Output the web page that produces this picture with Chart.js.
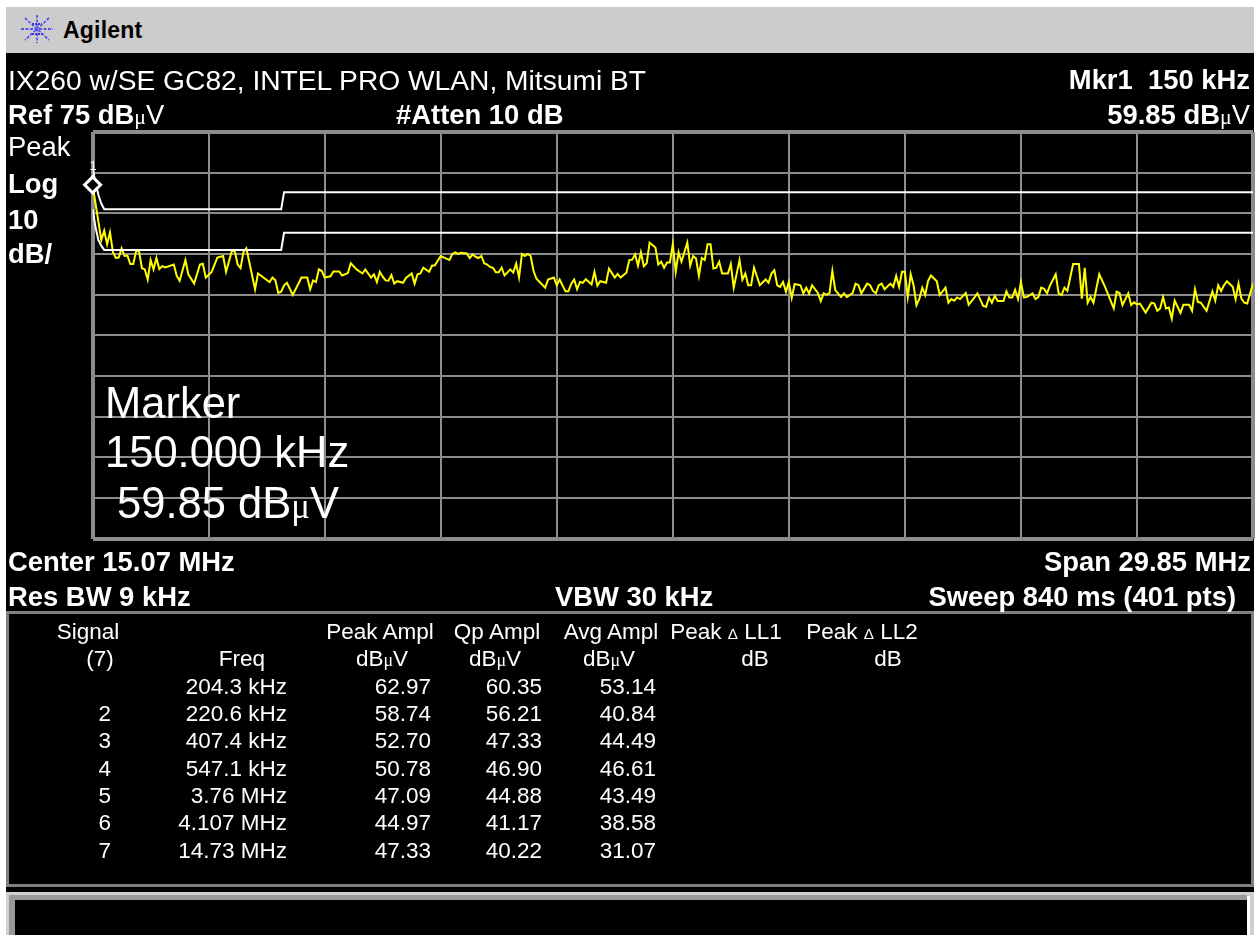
<!DOCTYPE html>
<html>
<head>
<meta charset="utf-8">
<title>IX260 w/SE GC82</title>
<script src="https://cdn.jsdelivr.net/npm/chart.js@4/dist/chart.umd.min.js"></script>
<style>
    html, body { margin: 0; padding: 0; background: #fff; overflow: hidden; }
    #page { position: relative; width: 1259px; height: 935px; font-family: "Liberation Sans", Arial, sans-serif; color: #fff; }
    .block { position: absolute; }
    .t { position: absolute; white-space: pre; line-height: 1; }
    .b { font-weight: bold; }
    .mu { font-family: "Liberation Serif", serif; font-weight: normal; font-size: 0.8em; }
    .reg { font-weight: normal; }
    .delta { font-size: 0.68em; }
    #chartWrap { position: absolute; left: 0; top: 0; width: 1259px; height: 935px; }
</style>
</head>
<body>
<div id="page">
    <div class="block" style="left:6px;top:7px;width:1248px;height:46px;background:#cccccc"></div>
    <div class="block" style="left:6px;top:53px;width:1248px;height:882px;background:#000"></div>
    <!-- measurement table box -->
    <div class="block" style="left:6px;top:611px;width:1248px;height:276px;box-sizing:border-box;border:3px solid #808080"></div>
    <!-- empty message box at the bottom -->
    <div class="block" style="left:6px;top:892px;width:1248px;height:43px;background:#cfcfcf"></div>
    <div class="block" style="left:9px;top:895px;width:1238px;height:5px;background:#999"></div>
    <div class="block" style="left:9px;top:895px;width:6px;height:40px;background:#999"></div>
    <div class="block" style="left:1247px;top:896px;width:3px;height:39px;background:#fff"></div>
    <div class="block" style="left:15px;top:900px;width:1232px;height:35px;background:#000"></div>

    <svg class="block" style="left:20px;top:14px" width="34" height="30" viewBox="0 0 34 30">
        <g stroke="#5555f0" stroke-width="1.8" stroke-dasharray="3 1.5" fill="none">
            <line x1="1" y1="15" x2="33" y2="15"/>
            <line x1="17" y1="1" x2="17" y2="29"/>
            <line x1="5" y1="4" x2="29" y2="26"/>
            <line x1="29" y1="4" x2="5" y2="26"/>
        </g>
        <g stroke="#3a3ad0" stroke-width="2" stroke-dasharray="2 1" fill="none">
            <line x1="12" y1="10" x2="22" y2="10"/>
            <line x1="12" y1="20" x2="22" y2="20"/>
        </g>
    </svg>
    <div class="t b" style="left:63px;top:19px;font-size:23px;color:#000;letter-spacing:0.2px">Agilent</div>

    <div id="chartWrap"><canvas id="analyzerChart" width="1259" height="935"></canvas></div>
    <div id="labels"></div>
</div>

<script>
    // sweep point number (0..400) and level in dBuV
    const traceBins = [
        0, 3, 4, 5, 6, 7, 8, 9, 10, 11, 12, 13, 14, 15, 16, 17, 18, 19, 20, 21, 22, 23, 24, 25, 28, 29, 30, 32, 33, 35,
        37, 38, 39, 41, 43, 45, 46, 48, 49, 50, 51, 52, 53, 56, 57, 61, 62, 63, 64, 65, 66, 67, 69, 72, 74, 75, 76, 77, 78, 79,
        80, 82, 83, 85, 86, 88, 89, 91, 93, 94, 96, 97, 98, 99, 100, 101, 102, 103, 104, 105, 107, 108, 110, 111, 112, 113, 114, 116, 117, 118,
        120, 123, 124, 125, 126, 127, 129, 130, 131, 132, 133, 134, 135, 136, 137, 138, 139, 140, 141, 142, 144, 145, 146, 147, 148, 149, 150, 151, 152, 153,
        156, 157, 159, 160, 161, 163, 164, 165, 166, 167, 168, 169, 170, 172, 173, 174, 175, 177, 178, 180, 181, 182, 184, 185, 186, 187, 188, 189, 190, 191,
        192, 194, 195, 196, 197, 198, 199, 200, 201, 202, 203, 205, 206, 207, 208, 209, 210, 211, 212, 213, 214, 215, 216, 217, 219, 220, 221, 223, 224, 225,
        226, 227, 228, 230, 232, 233, 234, 235, 236, 237, 238, 239, 240, 241, 242, 244, 245, 246, 247, 248, 250, 251, 252, 253, 254, 255, 256, 258, 259, 260,
        262, 263, 264, 265, 267, 268, 269, 270, 271, 272, 273, 275, 276, 277, 278, 279, 280, 281, 282, 283, 284, 285, 286, 287, 288, 289, 291, 292, 294, 295,
        296, 297, 298, 299, 301, 302, 304, 305, 307, 308, 309, 310, 311, 312, 314, 315, 316, 317, 318, 319, 320, 321, 322, 324, 325, 326, 327, 328, 329, 330,
        332, 333, 334, 335, 336, 338, 340, 341, 342, 343, 344, 345, 347, 349, 352, 353, 354, 355, 357, 358, 359, 360, 361, 363, 365, 366, 367, 368, 369, 370,
        371, 372, 373, 375, 376, 378, 379, 380, 381, 382, 384, 386, 387, 388, 389, 390, 391, 393, 394, 395, 396, 397, 398, 400
    ];
    const traceLevels = [
        62.0, 48.4, 50.7, 47.4, 50.3, 45.5, 44.0, 44.1, 46.4, 44.5, 44.6, 42.5, 42.5, 45.7, 45.7, 41.5, 41.2, 38.7, 43.5, 41.2, 44.0, 41.3, 42.0, 41.7, 42.4, 39.6, 38.4, 43.5, 40.0, 37.7,
        42.4, 42.6, 39.2, 40.5, 44.1, 44.5, 40.6, 45.7, 45.7, 42.4, 41.5, 45.5, 46.4, 36.3, 40.2, 38.1, 39.2, 38.5, 35.4, 35.7, 37.3, 37.9, 34.9, 39.2, 39.2, 36.3, 38.5, 38.1, 41.2, 40.8,
        39.2, 39.5, 40.7, 40.7, 39.7, 40.3, 42.7, 41.2, 40.2, 41.2, 39.2, 40.0, 38.1, 40.6, 39.4, 38.5, 38.4, 39.8, 37.7, 38.3, 37.9, 39.1, 40.2, 37.7, 40.0, 40.2, 41.6, 40.6, 42.1, 42.2,
        44.5, 43.5, 45.0, 45.4, 45.0, 45.3, 45.1, 44.0, 44.9, 44.3, 44.0, 44.5, 42.7, 42.4, 41.8, 41.6, 40.5, 40.5, 41.6, 39.7, 41.2, 40.4, 42.6, 39.2, 45.0, 44.5, 45.0, 44.5, 40.8, 38.9,
        36.7, 38.7, 39.2, 37.3, 38.7, 35.8, 35.8, 37.7, 38.7, 36.3, 38.1, 37.9, 38.8, 37.5, 40.6, 37.2, 38.3, 37.9, 41.4, 39.2, 40.1, 39.2, 40.4, 43.5, 43.6, 44.9, 42.1, 45.4, 42.0, 42.7,
        47.8, 46.6, 42.4, 43.1, 41.6, 42.9, 42.9, 47.4, 40.6, 45.4, 43.1, 47.8, 42.1, 44.5, 43.9, 39.6, 44.0, 43.5, 47.4, 47.4, 41.4, 41.6, 43.1, 40.2, 40.2, 42.5, 36.7, 43.5, 38.7, 40.2,
        37.3, 37.3, 41.6, 37.3, 38.7, 37.9, 40.2, 41.0, 37.3, 36.9, 38.1, 35.7, 38.1, 34.2, 37.6, 37.3, 35.3, 36.7, 35.3, 37.3, 35.4, 33.4, 35.3, 35.0, 35.3, 40.8, 36.1, 34.4, 35.3, 34.4,
        35.4, 37.7, 37.3, 35.3, 37.7, 37.3, 35.9, 35.3, 37.3, 37.7, 36.3, 37.7, 36.9, 39.6, 36.9, 40.6, 40.6, 34.4, 40.0, 37.3, 32.4, 34.0, 36.7, 34.9, 38.4, 39.7, 38.3, 34.9, 36.7, 33.0,
        33.9, 33.5, 34.3, 33.9, 35.4, 32.5, 34.3, 35.3, 32.2, 32.0, 34.3, 33.0, 34.7, 33.4, 33.4, 35.8, 34.3, 34.3, 36.2, 33.9, 38.1, 34.3, 34.4, 35.3, 33.9, 34.4, 36.7, 36.4, 35.3, 37.2,
        40.0, 35.3, 34.9, 36.7, 35.9, 42.5, 42.5, 34.0, 41.6, 33.0, 34.4, 33.0, 40.0, 36.9, 31.6, 35.7, 35.4, 32.4, 35.3, 32.4, 33.1, 32.6, 32.8, 30.6, 33.0, 32.8, 31.0, 31.6, 34.4, 31.6,
        31.8, 29.1, 33.5, 30.5, 32.5, 32.5, 31.0, 36.3, 33.2, 33.0, 31.0, 35.8, 33.5, 37.3, 35.9, 37.3, 38.3, 36.9, 33.9, 37.7, 34.0, 33.0, 32.8, 37.7
    ];

    // limit lines LL1 and LL2
    const limitBins = [0, 1, 2, 3, 4, 65, 66, 400];
    const limit1Levels = [66, 62.6, 59.5, 57.4, 56, 56, 60.2, 60.2];
    const limit2Levels = [56, 51.6, 48.4, 47, 46, 46, 50.2, 50.2];

    // marker 1 sits on the first sweep point
    const markerBin = 0;
    const markerLevel = 62;

    // table under the plot
    const signalNumbers = ['', '2', '3', '4', '5', '6', '7'];
    const signalFreqs = ['204.3 kHz', '220.6 kHz', '407.4 kHz', '547.1 kHz', '3.76 MHz', '4.107 MHz', '14.73 MHz'];
    const peakAmpl = ['62.97', '58.74', '52.70', '50.78', '47.09', '44.97', '47.33'];
    const qpAmpl = ['60.35', '56.21', '47.33', '46.90', '44.88', '41.17', '40.22'];
    const avgAmpl = ['53.14', '40.84', '44.49', '46.61', '43.49', '38.58', '31.07'];

    function pairs(xs, ys) {
        return xs.map(function (x, i) { return { x: x, y: ys[i] }; });
    }

    const gridColor = '#8c8c8c';
    function gridWidth(ctx) {
        return ctx.tick && (ctx.index === 0 || ctx.index === 10) ? 4 : 2;
    }

    new Chart(document.getElementById('analyzerChart').getContext('2d'), {
        type: 'line',
        data: {
            datasets: [
                {
                    label: 'Marker 1',
                    data: [{ x: markerBin, y: markerLevel }],
                    showLine: false,
                    clip: false,
                    pointStyle: 'rectRot',
                    pointRadius: 8,
                    pointBackgroundColor: '#000',
                    pointBorderColor: '#fff',
                    pointBorderWidth: 3
                },
                {
                    label: 'LL1',
                    data: pairs(limitBins, limit1Levels),
                    borderColor: '#ffffff',
                    borderWidth: 2,
                    pointRadius: 0,
                    tension: 0
                },
                {
                    label: 'LL2',
                    data: pairs(limitBins, limit2Levels),
                    borderColor: '#ffffff',
                    borderWidth: 2,
                    pointRadius: 0,
                    tension: 0
                },
                {
                    label: 'Trace 1',
                    data: pairs(traceBins, traceLevels),
                    borderColor: '#ffff00',
                    borderWidth: 2,
                    pointRadius: 0,
                    tension: 0
                }
            ]
        },
        options: {
            responsive: false,
            animation: false,
            // autoPadding would shrink the plot to make room for the marker
            layout: { autoPadding: false, padding: { left: 92.6, top: 132, right: 6, bottom: 396.5 } },
            plugins: { legend: { display: false }, tooltip: { enabled: false } },
            scales: {
                x: {
                    type: 'linear',
                    min: 0,
                    max: 400,
                    ticks: { display: false, stepSize: 40 },
                    grid: { color: gridColor, lineWidth: gridWidth, drawTicks: false },
                    border: { display: false }
                },
                y: {
                    type: 'linear',
                    min: -25,
                    max: 75,
                    ticks: { display: false, stepSize: 10 },
                    grid: { color: gridColor, lineWidth: gridWidth, drawTicks: false },
                    border: { display: false }
                }
            }
        }
    });

    // all the instrument text sits on top of the canvas
    const labels = document.getElementById('labels');
    const dbuv = 'dB<span class="mu">μ</span><span class="reg">V</span>';

    function text(html, x, y, size, opts) {
        opts = opts || {};
        const el = document.createElement('div');
        el.className = 't' + (opts.bold ? ' b' : '');
        el.innerHTML = html;
        el.style.fontSize = size + 'px';
        el.style.top = (y - size / 2) + 'px';
        if (opts.align === 'right') {
            el.style.right = (1259 - x) + 'px';
        } else if (opts.align === 'center') {
            el.style.left = x + 'px';
            el.style.transform = 'translateX(-50%)';
        } else {
            el.style.left = x + 'px';
        }
        labels.appendChild(el);
    }

    const head = 27.4;
    text('IX260 w/SE GC82, INTEL PRO WLAN, Mitsumi BT', 8, 80, 28.2);
    text('Mkr1  150 kHz', 1250, 80, head, { bold: true, align: 'right' });
    text('Ref 75 ' + dbuv, 8, 115, head, { bold: true });
    text('#Atten 10 dB', 396, 115, head, { bold: true });
    text('59.85 ' + dbuv, 1250, 115, head, { bold: true, align: 'right' });
    text('Peak', 8, 147, head);
    text('Log', 8, 184, head, { bold: true });
    text('10', 8, 220, head, { bold: true });
    text('dB/', 8, 254, head, { bold: true });
    text('1', 93, 165, 13, { align: 'center' });

    text('Marker', 105, 404, 43.5);
    text('150.000 kHz', 105, 453, 43.5);
    text(' 59.85 dB<span class="mu">μ</span>V', 105, 504, 43.5);

    text('Center 15.07 MHz', 8, 562, head, { bold: true });
    text('Span 29.85 MHz', 1251, 562, head, { bold: true, align: 'right' });
    text('Res BW 9 kHz', 8, 597, head, { bold: true });
    text('VBW 30 kHz', 555, 597, head, { bold: true });
    text('Sweep 840 ms (401 pts)', 1236, 597, head, { bold: true, align: 'right' });

    const tbl = 22.5;
    const headRow1 = 632;
    const headRow2 = 659;
    text('Signal', 88, headRow1, tbl, { align: 'center' });
    text('(7)', 100, headRow2, tbl, { align: 'center' });
    text('Freq', 242, headRow2, tbl, { align: 'center' });
    text('Peak Ampl', 380, headRow1, tbl, { align: 'center' });
    text('dB<span class="mu">μ</span>V', 382, headRow2, tbl, { align: 'center' });
    text('Qp Ampl', 497, headRow1, tbl, { align: 'center' });
    text('dB<span class="mu">μ</span>V', 495, headRow2, tbl, { align: 'center' });
    text('Avg Ampl', 611, headRow1, tbl, { align: 'center' });
    text('dB<span class="mu">μ</span>V', 609, headRow2, tbl, { align: 'center' });
    text('Peak <span class="delta">Δ</span> LL1', 726, headRow1, tbl, { align: 'center' });
    text('dB', 755, headRow2, tbl, { align: 'center' });
    text('Peak <span class="delta">Δ</span> LL2', 862, headRow1, tbl, { align: 'center' });
    text('dB', 888, headRow2, tbl, { align: 'center' });

    const rowTops = [687, 714, 741, 769, 796, 823, 851];
    signalFreqs.forEach(function (freq, i) {
        text(signalNumbers[i], 111, rowTops[i], tbl, { align: 'right' });
        text(freq, 287, rowTops[i], tbl, { align: 'right' });
        text(peakAmpl[i], 431, rowTops[i], tbl, { align: 'right' });
        text(qpAmpl[i], 542, rowTops[i], tbl, { align: 'right' });
        text(avgAmpl[i], 656, rowTops[i], tbl, { align: 'right' });
    });
</script>
</body>
</html>
